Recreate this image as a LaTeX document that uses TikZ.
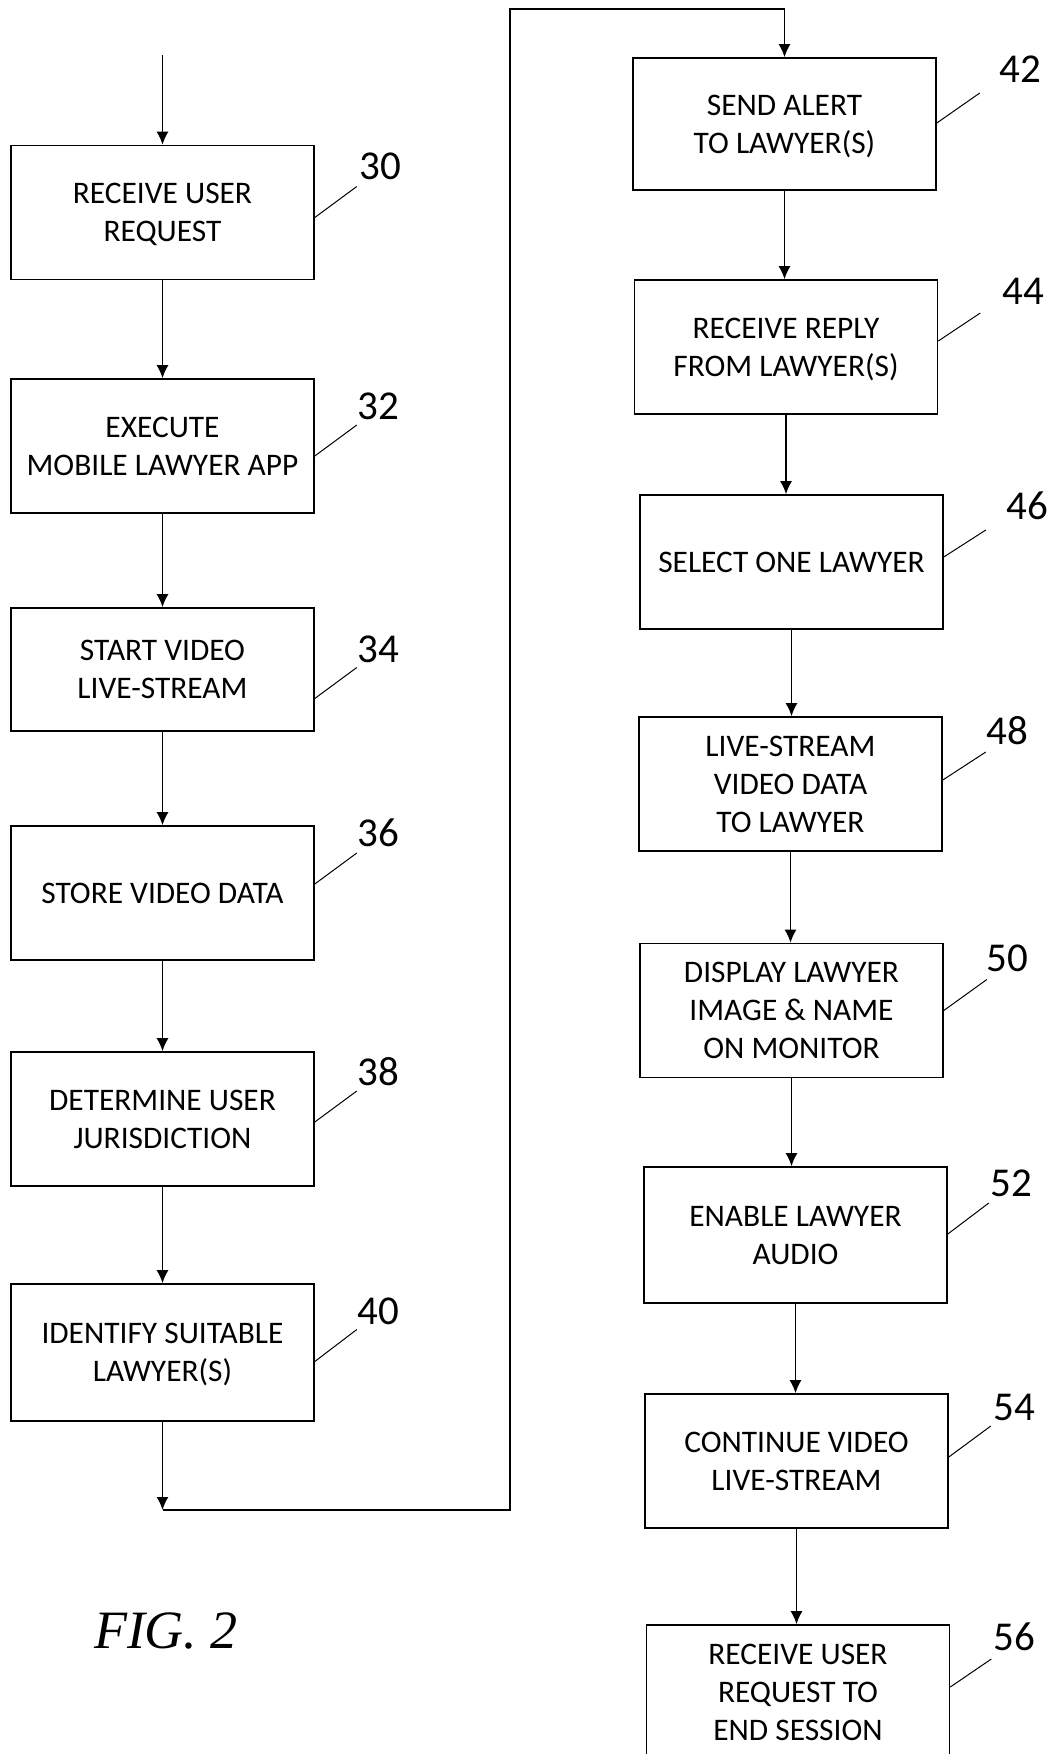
\documentclass[tikz,border=0pt]{standalone}
\usepackage{fontspec}
\setmainfont{Carlito}
\newfontfamily\figfont{Liberation Serif}
\usetikzlibrary{arrows.meta}
\tikzset{
  stepbox/.style={draw, line width=0.8pt, minimum width=151.5pt, minimum height=67pt,
    inner sep=0pt, align=center, text depth=-1.5pt, font=\fontsize{15.7}{19}\selectfont},
  refnum/.style={inner sep=0pt, font=\fontsize{20.5}{24}\selectfont},
  leader/.style={line width=0.5pt},
  flow/.style={->, line width=0.8pt}
}

\begin{document}
\begin{tikzpicture}[x=0.5pt,y=-0.5pt,>={Latex[length=6.5pt,width=6pt]}]
    \useasboundingbox (0,0) rectangle (1055,1754);
    \clip (0,0) rectangle (1055,1754);
    % left column
    \node[stepbox] (n30) at (162.5,212.5) {RECEIVE USER\\REQUEST};
    \node[stepbox] (n32) at (162.5,446) {EXECUTE\\MOBILE LAWYER APP};
    \node[stepbox, minimum height=61.5pt] (n34) at (162.5,669.5) {START VIDEO\\LIVE-STREAM};
    \node[stepbox] (n36) at (162.5,893) {STORE VIDEO DATA};
    \node[stepbox] (n38) at (162.5,1119) {DETERMINE USER\\JURISDICTION};
    \node[stepbox, minimum height=68.5pt] (n40) at (162.5,1352.5) {IDENTIFY SUITABLE\\LAWYER(S)};
    % right column
    \node[stepbox, minimum height=66pt] (n42) at (784.5,124) {SEND ALERT\\TO LAWYER(S)};
    \node[stepbox] (n44) at (786,347) {RECEIVE REPLY\\FROM LAWYER(S)};
    \node[stepbox] (n46) at (791.5,562) {SELECT ONE LAWYER};
    \node[stepbox] (n48) at (790.5,784) {LIVE-STREAM\\VIDEO DATA\\TO LAWYER};
    \node[stepbox] (n50) at (791.5,1010.5) {DISPLAY LAWYER\\IMAGE \& NAME\\ON MONITOR};
    \node[stepbox, minimum height=68pt] (n52) at (795.5,1235) {ENABLE LAWYER\\AUDIO};
    \node[stepbox] (n54) at (796.5,1461) {CONTINUE VIDEO\\LIVE-STREAM};
    \node[stepbox] (n56) at (798,1692) {RECEIVE USER\\REQUEST TO\\END SESSION};
    % reference numerals
    \node[refnum] (r30) at (380,166) {30};
    \node[refnum] (r32) at (378,406) {32};
    \node[refnum] (r34) at (378,649) {34};
    \node[refnum] (r36) at (378,833) {36};
    \node[refnum] (r38) at (378,1072) {38};
    \node[refnum] (r40) at (378,1311) {40};
    \node[refnum] (r42) at (1020,69) {42};
    \node[refnum] (r44) at (1023,291) {44};
    \node[refnum] (r46) at (1027,506) {46};
    \node[refnum] (r48) at (1007,731) {48};
    \node[refnum] (r50) at (1007,958) {50};
    \node[refnum] (r52) at (1011,1183) {52};
    \node[refnum] (r54) at (1014,1407) {54};
    \node[refnum] (r56) at (1014,1637) {56};
    \draw[leader] (n30.east) ++(0,5) -- ++(42,-31);
    \draw[leader] (n32.east) ++(0,10) -- ++(42,-31);
    \draw[leader] (n34.east) ++(0,29) -- ++(42,-31);
    \draw[leader] (n36.east) ++(0,-9) -- ++(42,-31);
    \draw[leader] (n38.east) ++(0,3) -- ++(42,-31);
    \draw[leader] (n40.east) ++(0,9) -- ++(42,-32);
    \draw[leader] (n42.east) ++(0,-1) -- ++(43,-30);
    \draw[leader] (n44.east) ++(0,-6) -- ++(42,-28);
    \draw[leader] (n46.east) ++(0,-5) -- ++(42,-27);
    \draw[leader] (n48.east) ++(0,-4) -- ++(43,-28);
    \draw[leader] (n50.east) ++(0,0) -- ++(43,-31);
    \draw[leader] (n52.east) ++(0,-1) -- ++(41,-31);
    \draw[leader] (n54.east) ++(0,-4) -- ++(42,-31);
    \draw[leader] (n56.east) ++(0,-5) -- ++(41,-28);
    % flow
    \coordinate (entry) at (162.5,55);
    \coordinate (turn) at (162.5,1510);
    \draw[flow] (entry) -- (n30);
    \draw[flow] (n30) -- (n32);
    \draw[flow] (n32) -- (n34);
    \draw[flow] (n34) -- (n36);
    \draw[flow] (n36) -- (n38);
    \draw[flow] (n38) -- (n40);
    \draw[flow] (n40) -- (turn);
    \draw[flow] (turn) -| (510,9) -| (n42.north);
    \draw[flow] (n42.south) -- (n42.south |- n44.north);
    \draw[flow] (n44.south) -- (n44.south |- n46.north);
    \draw[flow] (n46.south) -- (n46.south |- n48.north);
    \draw[flow] (n48.south) -- (n48.south |- n50.north);
    \draw[flow] (n50.south) -- (n50.south |- n52.north);
    \draw[flow] (n52.south) -- (n52.south |- n54.north);
    \draw[flow] (n54.south) -- (n54.south |- n56.north);
    \node[font=\figfont\itshape\fontsize{27}{30}\selectfont] (fig) at (166,1631) {FIG. 2};
\end{tikzpicture}
\end{document}
